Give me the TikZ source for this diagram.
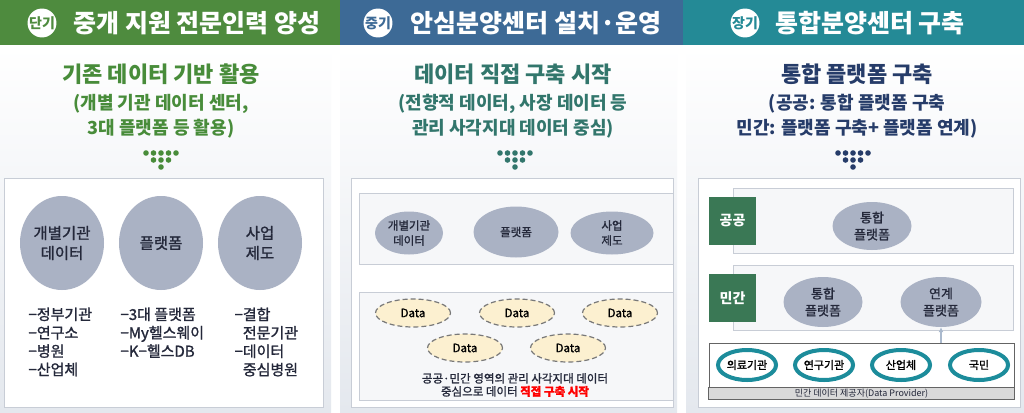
\documentclass[tikz,border=0pt]{standalone}
\usepackage{fontspec}
\setmainfont{Noto Sans CJK KR}
\newfontfamily\medfont{Noto Sans CJK KR}[FakeBold=1.3]
\usepackage{tikz}
\usetikzlibrary{positioning,shapes.geometric,arrows.meta}

\definecolor{hdrgreen}{RGB}{78,139,62}
\definecolor{hdrblue}{RGB}{61,106,150}
\definecolor{hdrteal}{RGB}{36,138,150}
\definecolor{ttlgreen}{RGB}{72,140,58}
\definecolor{ttlteal}{RGB}{50,118,108}
\definecolor{ttlnavy}{RGB}{38,60,105}
\definecolor{blobgray}{RGB}{170,178,196}
\definecolor{txtdark}{RGB}{36,40,58}
\definecolor{boxline}{RGB}{200,205,214}
\definecolor{bandfill}{RGB}{246,247,249}
\definecolor{datafill}{RGB}{252,240,208}
\definecolor{dataline}{RGB}{120,120,120}
\definecolor{lblgreen}{RGB}{58,120,85}
\definecolor{ringteal}{RGB}{28,140,155}
\definecolor{provline}{RGB}{100,100,100}
\definecolor{stripgray}{RGB}{217,217,217}
\definecolor{arrowgray}{RGB}{170,185,205}
\definecolor{panelbot}{RGB}{228,232,238}

\begin{document}
\begin{tikzpicture}[x=1pt,y=-1pt]
            \tikzstyle{hdr}=[text=white,font=\fontsize{25}{25}\selectfont\bfseries]
            \tikzstyle{badge}=[circle,fill=white,inner sep=0pt,minimum size=24pt,font=\fontsize{14}{14}\selectfont\bfseries]
            \tikzstyle{ttl}=[font=\fontsize{22}{22}\selectfont\bfseries]
            \tikzstyle{sub}=[align=center,font=\fontsize{18}{25}\selectfont\bfseries]
            \tikzstyle{blob}=[ellipse,fill=blobgray,inner sep=0pt,align=center,text=txtdark]
            \tikzstyle{lst}=[anchor=north west,align=left,text=txtdark,font=\fontsize{15}{18.4}\selectfont\medfont]
            \tikzstyle{band}=[draw=boxline,fill=bandfill]
            \tikzstyle{data}=[ellipse,draw=dataline,fill=datafill,line width=1.2pt,dash pattern=on 5pt off 3pt,minimum width=75pt,minimum height=28pt,inner sep=0pt,font=\fontsize{11.5}{12}\selectfont\medfont]
            \tikzstyle{rowlbl}=[fill=lblgreen,text=white,minimum width=47pt,minimum height=48pt,inner sep=0pt,font=\fontsize{14}{14}\selectfont\bfseries]
            \tikzstyle{ring}=[ellipse,draw=ringteal,line width=4pt,fill=white,minimum width=58pt,minimum height=30pt,inner sep=0pt,font=\fontsize{11}{11}\selectfont\medfont]

            \useasboundingbox (0,0) rectangle (1024,412);

            % panels
            \fill[white] (0,0) rectangle (1024,412);
            \shade[top color=white,bottom color=panelbot] (0,47) rectangle (331,412);
            \shade[top color=white,bottom color=panelbot] (340,47) rectangle (677,412);
            \shade[top color=white,bottom color=panelbot] (686,47) rectangle (1024,412);

            % header bars
            \fill[hdrgreen] (0,0) rectangle (340,45);
            \fill[hdrblue] (340,0) rectangle (683,45);
            \fill[hdrteal] (683,0) rectangle (1024,45);
            \node[badge,text=hdrgreen] (b1) at (42,23) {단기};
            \node[badge,text=hdrblue] (b2) at (378,23) {중기};
            \node[badge,text=hdrteal] (b3) at (745,23) {장기};
            \node[hdr] (h1) at (197,23) {중개 지원 전문인력 양성};
            \node[hdr] (h2) at (536,23) {안심분양센터 설치·운영};
            \node[hdr] (h3) at (870,23) {통합분양센터 구축};

            % titles
            \node[ttl,text=ttlgreen] (t1) at (161,74) {기존 데이터 기반 활용};
            \node[sub,text=ttlgreen] (s1) at (161,116) {(개별 기관 데이터 센터,\\3대 플랫폼 등 활용)};
            \node[ttl,text=ttlteal] (t2) at (513,74) {데이터 직접 구축 시작};
            \node[sub,text=ttlteal] (s2) at (513,116) {(전향적 데이터, 사장 데이터 등\\관리 사각지대 데이터 중심)};
            \node[ttl,text=ttlnavy] (t3) at (857,74) {통합 플랫폼 구축};
            \node[sub,text=ttlnavy] (s3) at (857,116) {(공공: 통합 플랫폼 구축\\민간: 플랫폼 구축+ 플랫폼 연계)};

            % dot triangles
            \foreach \cx/\cc in {161/ttlgreen, 515/ttlteal, 853/ttlnavy} {
                \foreach \i in {-2,...,2}
                    \fill[\cc] (\cx+\i*7.5,153) circle (2.8);
                \foreach \i in {-1,0,1}
                    \fill[\cc] (\cx+\i*7.5,160) circle (2.8);
                \fill[\cc] (\cx,167) circle (2.8);
            }

            % short term
            \draw[boxline,fill=white] (4,178) rectangle (323,407);
            \node[blob,minimum width=84pt,minimum height=94pt,font=\fontsize{15.5}{20}\selectfont\medfont] (org1) at (62,243) {개별기관\\데이터};
            \node[blob,minimum width=84pt,minimum height=94pt,font=\fontsize{15.5}{20}\selectfont\medfont] (plat1) at (161,243) {플랫폼};
            \node[blob,minimum width=84pt,minimum height=94pt,font=\fontsize{15.5}{20}\selectfont\medfont] (inst1) at (260,243) {사업\\제도};
            \node[lst] (lst1) at (25,304) {−정부기관\\−연구소\\−병원\\−산업체};
            \node[lst] (lst2) at (117,304) {−3대 플랫폼\\−My헬스웨이\\−K−헬스DB};
            \node[lst] (lst3) at (231,304) {−결합\\\hphantom{−}전문기관\\−데이터\\\hphantom{−}중심병원};

            % mid term
            \draw[boxline,fill=white] (351,178) rectangle (673,407);
            \draw[band] (359,193) rectangle (673,264);
            \draw[band] (359,292) rectangle (673,400);
            \node[blob,minimum width=68pt,minimum height=43pt,font=\fontsize{11.5}{15}\selectfont\medfont] (org2) at (409,233) {개별기관\\데이터};
            \node[blob,minimum width=85pt,minimum height=51pt,font=\fontsize{11.5}{15}\selectfont\medfont] (plat2) at (516,232) {플랫폼};
            \node[blob,minimum width=83pt,minimum height=43pt,font=\fontsize{11.5}{15}\selectfont\medfont] (inst2) at (612,233) {사업\\제도};
            \node[data] (d1) at (413,313) {Data};
            \node[data] (d2) at (517,313) {Data};
            \node[data] (d3) at (620,313) {Data};
            \node[data] (d4) at (465,348) {Data};
            \node[data] (d5) at (568,348) {Data};
            \node[align=center,text=txtdark,font=\fontsize{11.5}{13}\selectfont\medfont] (note) at (515,385) {공공·민간 영역의 관리 사각지대 데이터\\중심으로 데이터 \textcolor{red}{\bfseries 직접 구축 시작}};

            % long term
            \draw[boxline,fill=white] (698,178) rectangle (1020,407);
            \draw[band] (733,188) rectangle (1013,253);
            \draw[band] (733,265) rectangle (1013,330);
            \node[rowlbl] (pub) at (732.5,221) {공공};
            \node[rowlbl] (prv) at (732.5,298) {민간};
            \node[blob,minimum width=79pt,minimum height=48pt,font=\fontsize{13}{17}\selectfont\medfont] (pubplat) at (872,226) {통합\\플랫폼};
            \node[blob,minimum width=79pt,minimum height=50pt,font=\fontsize{13}{17}\selectfont\medfont] (prvplat) at (823,302) {통합\\플랫폼};
            \node[blob,minimum width=81pt,minimum height=50pt,font=\fontsize{13}{17}\selectfont\medfont] (link) at (941,302) {연계\\플랫폼};
            \node[draw=provline,line width=1pt,fill=white,minimum width=305pt,minimum height=56pt,inner sep=0pt] (prov) at (861.5,371) {};
            \draw[provline,fill=stripgray] ([yshift=12pt]prov.south west) rectangle (prov.south east);
            \node[font=\fontsize{9}{9}\selectfont,text=txtdark] (provlbl) at ([yshift=6pt]prov.south) {민간 데이터 제공자(Data Provider)};
            \node[ring] (r1) at (747,365) {의료기관};
            \node[ring] (r2) at (824,365) {연구기관};
            \node[ring] (r3) at (901,365) {산업체};
            \node[ring] (r4) at (979,365) {국민};
            \draw[-{Latex[length=5pt,width=5pt]},arrowgray,line width=1.2pt] (link |- prov.north) -- (link.south);
\end{tikzpicture}
\end{document}
